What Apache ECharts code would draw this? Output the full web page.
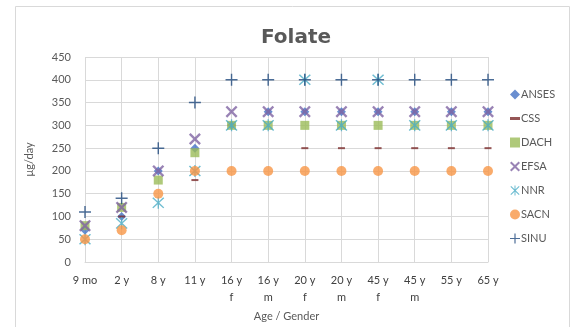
<!DOCTYPE html>
<html><head><meta charset="utf-8">
<script src="https://cdn.jsdelivr.net/npm/echarts@6/dist/echarts.min.js"></script>
<style>html,body{margin:0;padding:0;background:#fff}#c{width:571px;height:327px}</style>
</head><body><div id="c"></div>
<script>
const categories = ['9 mo','2 y','8 y','11 y','16 y\nf','16 y\nm','20 y\nf','20 y\nm','45 y\nf','45 y\nm','55 y','65 y'];
const yTicks = [0,50,100,150,200,250,300,350,400,450];
const ANSES = [70,100,200,250,300,330,330,330,330,330,330,330];
const CSS   = [null,100,null,180,null,null,250,250,250,250,250,250];
const DACH  = [80,120,180,240,300,300,300,300,300,300,300,300];
const EFSA  = [80,120,200,270,330,330,330,330,330,330,330,330];
const NNR   = [50,85,130,200,300,300,400,300,400,300,300,300];
const SACN  = [50,70,150,200,200,200,200,200,200,200,200,200];
const SINU  = [110,140,250,350,400,400,400,400,400,400,400,400];

const X_PATH = 'path://M1.4,0L5,3.6L8.6,0L10,1.4L6.4,5L10,8.6L8.6,10L5,6.4L1.4,10L0,8.6L3.6,5L0,1.4Z';
const PLUS_PATH = 'path://M4.4,0H5.6V4.4H10V5.6H5.6V10H4.4V5.6H0V4.4H4.4Z';
const STAR_PATH = 'path://M1.2,0.4L5,4.2L8.8,0.4L9.6,1.2L5.8,5L9.6,8.8L8.8,9.6L5,5.8L1.2,9.6L0.4,8.8L4.2,5L0.4,1.2Z M4.5,0H5.5V10H4.5Z';
const DASH_PATH = 'path://M0,0H10V3H0Z';

const font = 'Lato, "Open Sans", sans-serif';
function s(name, data, color, symbol, size){
  return {name, type:'scatter', data, symbol, symbolSize:size,
    itemStyle:{color}, emphasis:{disabled:true}};
}
const chart = echarts.init(document.getElementById('c'));
chart.setOption({
  animation:false,
  textStyle:{fontFamily:font},
  title:{text:'Folate', left:291, textAlign:'center', top:23,
    textStyle:{fontFamily:'"DejaVu Sans", sans-serif', fontSize:20, fontWeight:'bold', color:'#595959'}},
  graphic:[{type:'rect', shape:{x:15.5,y:6.5,width:554,height:330}, style:{fill:'none', stroke:'#D9D9D9', lineWidth:1}, silent:true}],
  grid:{left:85, right:83, top:57, bottom:60},
  legend:{orient:'vertical', left:505, top:84, itemGap:13, itemWidth:10, itemHeight:10,
    textStyle:{fontFamily:font, fontSize:11, color:'#595959', padding:[0,0,0,-4]},
    data:[
      {name:'ANSES', icon:'diamond'},
      {name:'CSS', icon:DASH_PATH},
      {name:'DACH', icon:'rect'},
      {name:'EFSA', icon:X_PATH},
      {name:'NNR', icon:STAR_PATH},
      {name:'SACN', icon:'circle'},
      {name:'SINU', icon:PLUS_PATH}
    ]},
  xAxis:{type:'category', data:categories, boundaryGap:false,
    name:'Age / Gender', nameLocation:'middle', nameGap:46,
    nameTextStyle:{fontFamily:font, fontSize:11, color:'#595959'},
    axisLine:{lineStyle:{color:'#D9D9D9'}}, axisTick:{show:false},
    axisLabel:{interval:0, color:'#404040', fontSize:11, fontFamily:font, lineHeight:17, margin:10, verticalAlign:'top'},
    splitLine:{show:true, lineStyle:{color:'#D9D9D9'}}},
  yAxis:{type:'value', min:yTicks[0], max:yTicks[yTicks.length-1], interval:50,
    name:'µg/day', nameLocation:'middle', nameGap:50,
    nameTextStyle:{fontFamily:font, fontSize:11, color:'#595959'},
    axisLine:{show:false}, axisTick:{show:false},
    axisLabel:{color:'#595959', fontSize:11, fontFamily:font, margin:14},
    splitLine:{lineStyle:{color:'#D9D9D9'}}},
  series:[
    s('ANSES', ANSES, '#4472C4', 'diamond', 9),
    s('CSS', CSS, '#7B2C2C', DASH_PATH, [7,2]),
    s('DACH', DACH, '#9BBB59', 'rect', 9),
    s('EFSA', EFSA, '#8064A2', X_PATH, 12),
    s('NNR', NNR, '#4BACC6', STAR_PATH, 12),
    s('SACN', SACN, '#F79646', 'circle', 10),
    s('SINU', SINU, '#1F497D', PLUS_PATH, 12)
  ]
});
</script></body></html>
